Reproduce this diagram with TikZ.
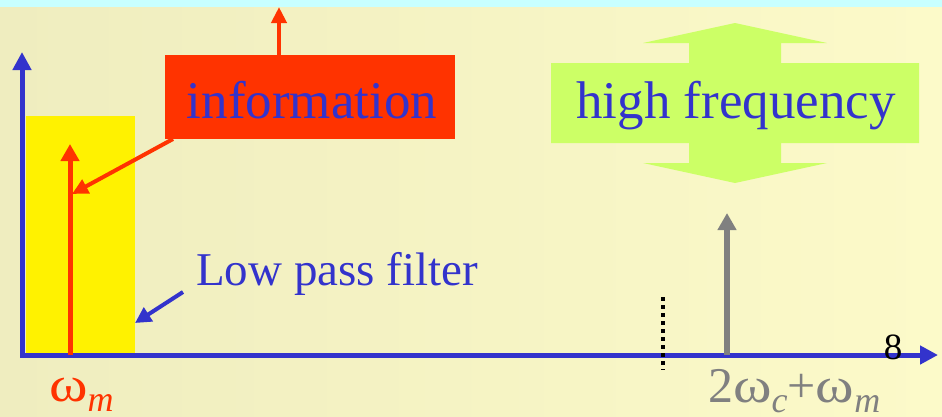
\documentclass[tikz,border=0pt]{standalone}
\usepackage{fontspec}
\setmainfont{Liberation Serif}
\usetikzlibrary{arrows.meta}
\definecolor{bgL}{HTML}{EFEDBF}
\definecolor{bgR}{HTML}{FCFAC9}
\definecolor{band}{HTML}{C8FFFF}
\definecolor{myblue}{HTML}{3333CC}
\definecolor{myred}{HTML}{FF3300}
\definecolor{mygreen}{HTML}{CCFF66}
\definecolor{mygray}{HTML}{808080}
\newcommand{\wideomega}{\scalebox{1.17}[1]{ω}}
\newcommand{\subit}[1]{\raisebox{-0.2em}{\fontsize{36}{40}\selectfont\itshape #1}}
\tikzset{
  axisline/.style={draw=myblue,line width=5pt,-{Triangle[length=18pt,width=18pt]}},
  redline/.style={draw=myred,line width=5pt,-{Triangle[length=17pt,width=18pt]}},
  thinred/.style={draw=myred,line width=4pt,-{Triangle[length=16pt,width=15pt]}},
  blueptr/.style={draw=myblue,line width=4pt,-{Triangle[length=16pt,width=16pt]}},
  grayline/.style={draw=mygray,line width=6pt,-{Triangle[length=17pt,width=18pt]}},
  bigtxt/.style={font=\fontsize{53}{60}\selectfont,text=myblue,inner sep=0pt},
}
\begin{document}
\begin{tikzpicture}[x=1pt,y=-1pt]
\useasboundingbox (0,0) rectangle (942,416);
\shade[left color=bgL,right color=bgR] (0,0) rectangle (942,416);
\fill[band] (0,0) rectangle (942,7);
% low pass filter band
\fill[yellow] (26,116) rectangle (135,353);
% axes
\coordinate (O) at (22,355);
\coordinate (Ytop) at (22,52);
\coordinate (Xend) at (938,355);
\draw[axisline] (O) -- (Ytop);
\draw[axisline] (20,355) -- (Xend);
% omega_m spike
\coordinate (wmB) at (70,355);
\coordinate (wmT) at (70,144);
\draw[redline] (wmB) -- (wmT);
% information box
\node[fill=myred,minimum width=290pt,minimum height=84pt,inner sep=0pt] (info) at (310,97) {};
\node[bigtxt,anchor=base] (infotxt) at (312,118) {information};
\coordinate (infoUp) at (279,7);
\draw[thinred] (info.north -| infoUp) -- (infoUp);
\coordinate (infoTip) at (72,194);
\draw[thinred] (173,139) -- (infoTip);
% high frequency double arrow shape
\fill[mygreen] (551,63) -- (689,63) -- (689,43) -- (643,43) -- (735,23) -- (827,43) -- (781,43) -- (781,63)
  -- (919,63) -- (919,143) -- (781,143) -- (781,163) -- (827,163) -- (735,183) -- (643,163) -- (689,163)
  -- (689,143) -- (551,143) -- cycle;
\node[bigtxt,anchor=base] (hf) at (736,118) {high frequency};
% low pass filter label
\node[font=\fontsize{47}{54}\selectfont,text=myblue,inner sep=0pt,anchor=base west] (lpf) at (196,285) {Low pass filter};
\coordinate (lpfTip) at (135,323);
\draw[blueptr] (183,292) -- (lpfTip);
% dotted marker
\coordinate (dA) at (663,297);
\coordinate (dB) at (663,370);
\draw[line width=3.5pt,dash pattern=on 3.5pt off 4.5pt] (dA) -- (dB);
% gray spike
\coordinate (gB) at (727,355);
\coordinate (gT) at (727,213);
\draw[grayline] (gB) -- (gT);
% labels
\node[font=\fontsize{37}{40}\selectfont,inner sep=0pt] (inf) at (893,347) {8};
\node[font=\fontsize{50}{56}\selectfont,text=myred,inner sep=0pt,anchor=base west] (wm) at (49,401)
  {\wideomega\subit{m}};
\node[font=\fontsize{50}{56}\selectfont,text=mygray,inner sep=0pt,anchor=base west] (wc) at (708,402)
  {2\wideomega\subit{c}+\wideomega\subit{m}};
\end{tikzpicture}
\end{document}
